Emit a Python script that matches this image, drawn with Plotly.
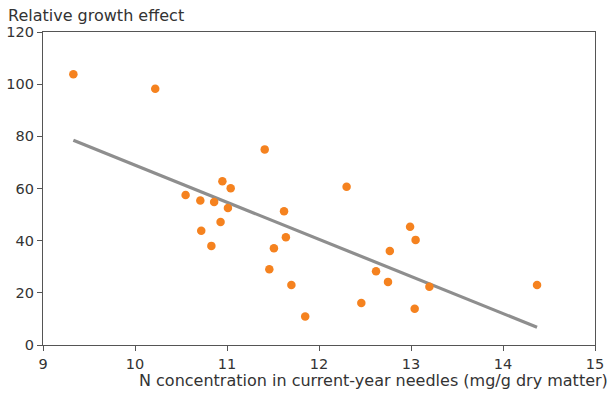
import plotly.graph_objects as go

n_conc = [9.33, 10.22, 10.55, 10.71, 10.72, 10.83, 10.86, 10.95, 10.93, 11.01, 11.04,
          11.41, 11.46, 11.51, 11.62, 11.64, 11.70, 11.85, 12.30, 12.46, 12.62, 12.75,
          12.77, 12.99, 13.05, 13.04, 13.20, 14.37]
growth = [103.8, 98.2, 57.5, 55.4, 43.8, 38.0, 54.8, 62.8, 47.2, 52.5, 60.1,
          75.0, 29.0, 37.1, 51.3, 41.3, 23.0, 10.9, 60.7, 16.1, 28.3, 24.2,
          36.0, 45.3, 40.3, 13.9, 22.3, 23.0]
trend_x = [9.33, 14.37]
trend_y = [78.5, 6.8]
x_ticks = [9, 10, 11, 12, 13, 14, 15]
y_ticks = [0, 20, 40, 60, 80, 100, 120]

font_family = "DejaVu Sans, Liberation Sans, Arial, sans-serif"
text_color = "#333333"
axis_color = "#555555"

fig = go.Figure()
fig.add_trace(go.Scatter(x=trend_x, y=trend_y, mode="lines",
                         line=dict(color="#8e8e8e", width=3.2), hoverinfo="skip"))
fig.add_trace(go.Scatter(x=n_conc, y=growth, mode="markers",
                         marker=dict(color="#f5821f", size=8.5, line=dict(width=0))))

fig.update_layout(
    width=612, height=394,
    margin=dict(l=43, r=17, t=32, b=49),
    paper_bgcolor="white", plot_bgcolor="white",
    showlegend=False,
    font=dict(family=font_family, size=14.5, color=text_color),
    xaxis=dict(range=[9, 15], tickvals=x_ticks, ticks="outside", ticklen=5,
               tickcolor=axis_color, showline=True, linecolor=axis_color, linewidth=1.3,
               mirror=True, showgrid=False, zeroline=False, automargin=False,
               tickfont=dict(size=14.5, color=text_color)),
    yaxis=dict(range=[0, 120], tickvals=y_ticks, ticks="outside", ticklen=5,
               tickcolor=axis_color, showline=True, linecolor=axis_color, linewidth=1.3,
               mirror=True, showgrid=False, zeroline=False, automargin=False,
               tickfont=dict(size=14.5, color=text_color)),
    annotations=[
        dict(text="Relative growth effect", xref="paper", yref="paper",
             x=0, y=1, xanchor="left", yanchor="middle", xshift=-37, yshift=17,
             showarrow=False, font=dict(size=16, color=text_color)),
        dict(text="N concentration in current-year needles (mg/g dry matter)",
             xref="paper", yref="paper", x=1, y=0, xanchor="right", yanchor="middle",
             xshift=15, yshift=-35, showarrow=False,
             font=dict(size=16, color=text_color)),
    ],
)

fig.write_html("out.html",
               config={"displayModeBar": False},
               post_script="document.body.style.margin='0px';document.body.style.overflow='hidden';")
